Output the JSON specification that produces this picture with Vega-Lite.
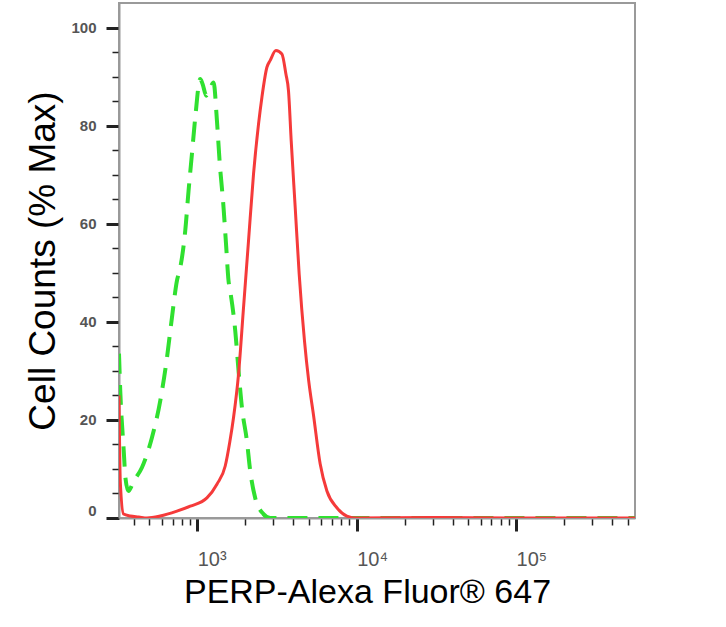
{
  "$schema": "https://vega.github.io/schema/vega-lite/v6.json",
  "width": 516,
  "height": 515,
  "autosize": {"type": "none"},
  "padding": {"left": 119, "top": 3, "right": 91, "bottom": 109},
  "config": {
    "font": "Liberation Sans",
    "view": {"stroke": "#9a9a9a", "strokeWidth": 2}
  },
  "data": {
    "values": [
      {"sample": "isotype", "fluor": 323, "pct": 33.5},
      {"sample": "isotype", "fluor": 329, "pct": 25.9},
      {"sample": "isotype", "fluor": 345, "pct": 14.3},
      {"sample": "isotype", "fluor": 355, "pct": 8},
      {"sample": "isotype", "fluor": 370, "pct": 5.5},
      {"sample": "isotype", "fluor": 399, "pct": 7.5},
      {"sample": "isotype", "fluor": 450, "pct": 10.3},
      {"sample": "isotype", "fluor": 520, "pct": 16.4},
      {"sample": "isotype", "fluor": 586, "pct": 23.9},
      {"sample": "isotype", "fluor": 646, "pct": 32.7},
      {"sample": "isotype", "fluor": 694, "pct": 40.9},
      {"sample": "isotype", "fluor": 746, "pct": 48.4},
      {"sample": "isotype", "fluor": 782, "pct": 51},
      {"sample": "isotype", "fluor": 841, "pct": 58.6},
      {"sample": "isotype", "fluor": 882, "pct": 66.7},
      {"sample": "isotype", "fluor": 926, "pct": 74.2},
      {"sample": "isotype", "fluor": 972, "pct": 81.7},
      {"sample": "isotype", "fluor": 1044, "pct": 89.5},
      {"sample": "isotype", "fluor": 1080, "pct": 88.5},
      {"sample": "isotype", "fluor": 1139, "pct": 86.1},
      {"sample": "isotype", "fluor": 1200, "pct": 87.5},
      {"sample": "isotype", "fluor": 1266, "pct": 88.8},
      {"sample": "isotype", "fluor": 1329, "pct": 81},
      {"sample": "isotype", "fluor": 1380, "pct": 72.9},
      {"sample": "isotype", "fluor": 1462, "pct": 63.3},
      {"sample": "isotype", "fluor": 1520, "pct": 55.2},
      {"sample": "isotype", "fluor": 1571, "pct": 48.4},
      {"sample": "isotype", "fluor": 1610, "pct": 46.3},
      {"sample": "isotype", "fluor": 1731, "pct": 38.2},
      {"sample": "isotype", "fluor": 1816, "pct": 30},
      {"sample": "isotype", "fluor": 1907, "pct": 22.5},
      {"sample": "isotype", "fluor": 2049, "pct": 15.7},
      {"sample": "isotype", "fluor": 2149, "pct": 9.6},
      {"sample": "isotype", "fluor": 2310, "pct": 4.1},
      {"sample": "isotype", "fluor": 2604, "pct": 0.8},
      {"sample": "isotype", "fluor": 2869, "pct": 0},
      {"sample": "isotype", "fluor": 10000, "pct": 0},
      {"sample": "isotype", "fluor": 557000, "pct": 0},
      {"sample": "PERP", "fluor": 323, "pct": 25},
      {"sample": "PERP", "fluor": 329, "pct": 7.5},
      {"sample": "PERP", "fluor": 345, "pct": 0.8},
      {"sample": "PERP", "fluor": 380, "pct": 0.4},
      {"sample": "PERP", "fluor": 430, "pct": 0.2},
      {"sample": "PERP", "fluor": 484, "pct": 0},
      {"sample": "PERP", "fluor": 586, "pct": 0.4},
      {"sample": "PERP", "fluor": 746, "pct": 1.4},
      {"sample": "PERP", "fluor": 904, "pct": 2.4},
      {"sample": "PERP", "fluor": 1150, "pct": 4.1},
      {"sample": "PERP", "fluor": 1329, "pct": 6.9},
      {"sample": "PERP", "fluor": 1498, "pct": 10.6},
      {"sample": "PERP", "fluor": 1600, "pct": 15.5},
      {"sample": "PERP", "fluor": 1689, "pct": 20.5},
      {"sample": "PERP", "fluor": 1815, "pct": 29.3},
      {"sample": "PERP", "fluor": 1951, "pct": 42.9},
      {"sample": "PERP", "fluor": 2097, "pct": 56.5},
      {"sample": "PERP", "fluor": 2254, "pct": 70.1},
      {"sample": "PERP", "fluor": 2423, "pct": 80.3},
      {"sample": "PERP", "fluor": 2545, "pct": 85.8},
      {"sample": "PERP", "fluor": 2735, "pct": 91.9},
      {"sample": "PERP", "fluor": 2869, "pct": 93.3},
      {"sample": "PERP", "fluor": 3114, "pct": 95.3},
      {"sample": "PERP", "fluor": 3396, "pct": 94.6},
      {"sample": "PERP", "fluor": 3599, "pct": 90.5},
      {"sample": "PERP", "fluor": 3736, "pct": 87.1},
      {"sample": "PERP", "fluor": 3885, "pct": 76.9},
      {"sample": "PERP", "fluor": 4116, "pct": 63.3},
      {"sample": "PERP", "fluor": 4360, "pct": 49.7},
      {"sample": "PERP", "fluor": 4706, "pct": 36.1},
      {"sample": "PERP", "fluor": 5000, "pct": 28},
      {"sample": "PERP", "fluor": 5360, "pct": 21},
      {"sample": "PERP", "fluor": 5905, "pct": 11},
      {"sample": "PERP", "fluor": 6506, "pct": 5.5},
      {"sample": "PERP", "fluor": 7514, "pct": 2.1},
      {"sample": "PERP", "fluor": 8682, "pct": 0.4},
      {"sample": "PERP", "fluor": 10030, "pct": 0},
      {"sample": "PERP", "fluor": 30000, "pct": 0.1},
      {"sample": "PERP", "fluor": 100000, "pct": 0},
      {"sample": "PERP", "fluor": 557000, "pct": 0}
    ]
  },
  "encoding": {
    "x": {
      "field": "fluor",
      "type": "quantitative",
      "scale": {"type": "log", "domain": [323, 557000], "nice": false},
      "axis": {
        "title": "PERP-Alexa Fluor® 647",
        "titleFontSize": 34,
        "titleFontWeight": "normal",
        "titleColor": "#000",
        "titlePadding": 6,
        "titleX": 248,
        "grid": false,
        "domainColor": "#999",
        "domainWidth": 2,
        "values": [400, 500, 600, 700, 800, 900, 1000, 2000, 3000, 4000, 5000, 6000, 7000, 8000, 9000, 10000, 20000, 30000, 40000, 50000, 60000, 70000, 80000, 90000, 100000, 200000, 300000, 400000, 500000],
        "labelExpr": "datum.value == 1000 ? '10³' : datum.value == 10000 ? '10⁴' : datum.value == 100000 ? '10⁵' : ''",
        "labelOverlap": false,
        "labelFlush": false,
        "labelAlign": "left",
        "labelDx": 3,
        "labelPadding": 18,
        "labelFontSize": 20,
        "labelColor": "#555",
        "tickColor": "#222",
        "tickSize": {"condition": {"test": "datum.value == 1000 || datum.value == 10000 || datum.value == 100000", "value": 13}, "value": 7},
        "tickWidth": {"condition": {"test": "datum.value == 1000 || datum.value == 10000 || datum.value == 100000", "value": 3}, "value": 1.5}
      }
    },
    "y": {
      "field": "pct",
      "type": "quantitative",
      "scale": {"domain": [0, 105], "nice": false},
      "axis": {
        "title": "Cell Counts (% Max)",
        "titleFontSize": 37,
        "titleFontWeight": "normal",
        "titleColor": "#000",
        "titlePadding": 8,
        "grid": false,
        "domainColor": "#999",
        "domainWidth": 2,
        "values": [0, 5, 10, 15, 20, 25, 30, 35, 40, 45, 50, 55, 60, 65, 70, 75, 80, 85, 90, 95, 100],
        "labelExpr": "datum.value % 20 == 0 ? datum.label : ''",
        "labelOverlap": false,
        "labelFlush": false,
        "labelBaseline": {"condition": {"test": "datum.value == 0", "value": "bottom"}, "value": "middle"},
        "labelPadding": 10,
        "labelFontSize": 15,
        "labelFontWeight": "bold",
        "labelColor": "#555",
        "tickColor": "#222",
        "tickSize": {"condition": {"test": "datum.value % 20 == 0", "value": 13}, "value": 7},
        "tickWidth": {"condition": {"test": "datum.value % 20 == 0", "value": 3}, "value": 1.5}
      }
    }
  },
  "layer": [
    {
      "transform": [{"filter": "datum.sample === 'isotype'"}],
      "mark": {"type": "line", "color": "#30e030", "strokeWidth": 4, "strokeDash": [20, 11], "interpolate": "monotone", "clip": true}
    },
    {
      "transform": [{"filter": "datum.sample === 'PERP'"}],
      "mark": {"type": "line", "color": "#f53a3a", "strokeWidth": 3, "interpolate": "monotone", "clip": true}
    }
  ]
}
